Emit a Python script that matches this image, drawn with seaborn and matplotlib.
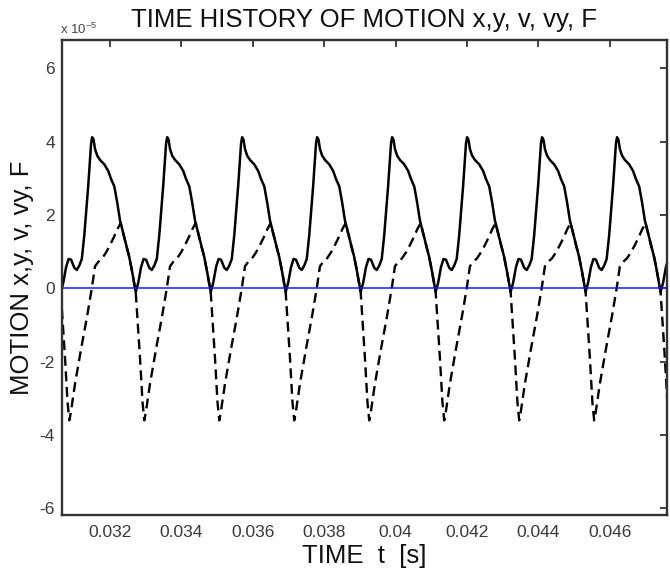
import matplotlib
matplotlib.use("Agg")
import matplotlib.pyplot as plt
import pandas as pd
import seaborn as sns

# ---------------- values ----------------
# time in milliseconds, motion in units of 1e-5 (axis multiplier "x 10^-5")
peak_times_ms = [29.40, 31.50, 33.60, 35.70, 37.80, 39.90, 42.00, 44.10, 46.20, 48.30]

# one cycle of the solid curve, offsets relative to each peak
solid_offsets_ms = [-0.88, -0.81, -0.73, -0.66, -0.59, -0.50, -0.43, -0.36, -0.29,
                    -0.22, -0.11, -0.03, 0.00, 0.04, 0.08, 0.14, 0.22, 0.34, 0.45,
                    0.53, 0.62, 0.70, 0.78, 0.87, 0.95, 1.04, 1.12]
solid_cycle = [-0.10, 0.15, 0.58, 0.80, 0.78, 0.56, 0.50, 0.62, 0.80,
               1.45, 2.80, 3.95, 4.12, 4.05, 3.80, 3.62, 3.50, 3.38, 3.20,
               2.98, 2.78, 2.35, 1.85, 1.50, 1.18, 0.85, 0.45]

# one cycle of the dashed curve, offsets relative to the same peaks
dashed_offsets_ms = [-0.88, -0.76, -0.69, -0.64, -0.60, -0.48, -0.31, -0.14, -0.01,
                     0.08, 0.17, 0.28, 0.39, 0.50, 0.62, 0.71, 0.80, 0.87, 0.95,
                     1.04, 1.12]
dashed_cycle = [-0.10, -1.90, -3.10, -3.60, -3.40, -2.60, -1.65, -0.75, 0.00,
                0.60, 0.72, 0.82, 0.98, 1.18, 1.42, 1.62, 1.78, 1.50, 1.18,
                0.85, 0.45]

# flat blue series (F)
force_times_ms = [30.655, 47.60]
force_values = [0.0, 0.0]

x_ticks = [0.032, 0.034, 0.036, 0.038, 0.040, 0.042, 0.044, 0.046]
x_tick_labels = ["0.032", "0.034", "0.036", "0.038", "0.04", "0.042", "0.044", "0.046"]
y_ticks = [-6, -4, -2, 0, 2, 4, 6]
y_tick_labels = ["-6", "-4", "-2", "0", "2", "4", "6"]

title_text = "TIME HISTORY OF MOTION x,y, v, vy, F"
x_label = "TIME  t  [s]"
y_label = "MOTION x,y, v, vy, F"

# ---------------- build tables ----------------
MS = 1e-3
solid_rows = [{"t": (p + o) * MS, "value": v}
              for p in peak_times_ms for o, v in zip(solid_offsets_ms, solid_cycle)]
dashed_rows = [{"t": (p + o) * MS, "value": v}
               for p in peak_times_ms for o, v in zip(dashed_offsets_ms, dashed_cycle)]
solid_df = pd.DataFrame(solid_rows)
dashed_df = pd.DataFrame(dashed_rows)
force_df = pd.DataFrame({"t": [t * MS for t in force_times_ms], "value": force_values})

# ---------------- style ----------------
sns.set_theme(style="white")
plt.rcParams["font.family"] = ["Liberation Sans", "DejaVu Sans"]
plt.rcParams["mathtext.fontset"] = "custom"
plt.rcParams["mathtext.rm"] = "Liberation Sans"

W, H = 670, 575
fig = plt.figure(figsize=(W / 100, H / 100), dpi=100)
ax = fig.add_axes([62 / W, 1 - 515 / H, 605 / W, 475 / H])

sns.lineplot(data=dashed_df, x="t", y="value", ax=ax, color="black",
             linewidth=1.7, linestyle=(0, (4.2, 2.4)), estimator=None, sort=False)
sns.lineplot(data=solid_df, x="t", y="value", ax=ax, color="black",
             linewidth=1.8, estimator=None, sort=False)
sns.lineplot(data=force_df, x="t", y="value", ax=ax, color="#1a1aff",
             linewidth=1.1, estimator=None, sort=False)

ax.set_xlim(0.030655, 0.0476)
ax.set_ylim(-6.18, 6.77)
ax.set_xticks(x_ticks)
ax.set_xticklabels(x_tick_labels)
ax.set_yticks(y_ticks)
ax.set_yticklabels(y_tick_labels)

ax.tick_params(axis="both", direction="in", length=5, width=1.2, color="#222222",
               top=True, right=True, labelsize=12.5, labelcolor="#3a3a3a")
ax.tick_params(axis="x", pad=7)
ax.tick_params(axis="y", pad=5)
for s in ax.spines.values():
    s.set_visible(True)
    s.set_color("#333333")
    s.set_linewidth(1.7)

ax.set_xlabel(x_label, fontsize=18.5, color="#111111", labelpad=3)
ax.set_ylabel(y_label, fontsize=18.5, color="#111111", labelpad=4)

fig.text(364 / W, 1 - 27 / H, title_text, ha="center", va="baseline",
         fontsize=18.5, color="#111111")
ax.text(-0.003, 1.006, r"x 10$^{\mathregular{-5}}$", transform=ax.transAxes,
        ha="left", va="bottom", fontsize=9.5, color="#444444")

fig.savefig("out.png", dpi=100)
